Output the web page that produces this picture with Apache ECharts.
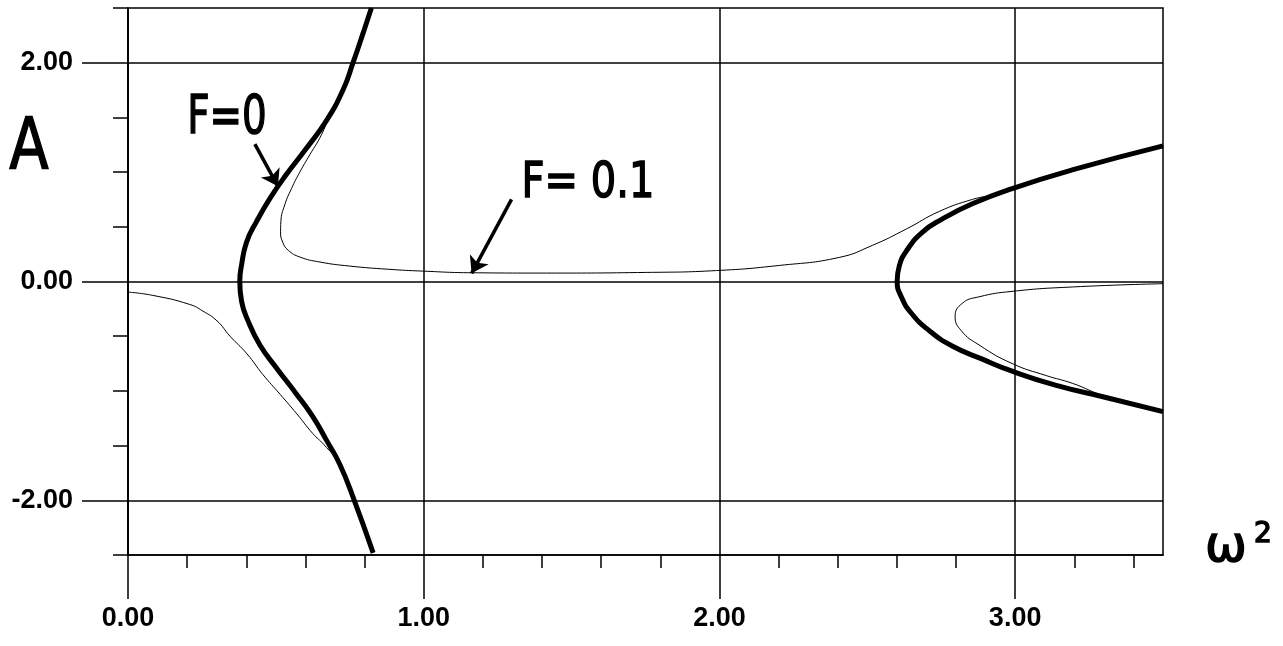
<!DOCTYPE html>
<html>
<head>
    <meta charset="utf-8">
    <title>A - omega^2</title>
    <script src="https://cdnjs.cloudflare.com/ajax/libs/echarts/6.0.0/echarts.min.js"></script>
</head>
<body style="margin:0;background:#fff;">
    <div id="main" style="width:1283px;height:646px;"></div>
    <script type="text/javascript">

    // ticks
    var xMajor = [0, 1, 2, 3];
    var xMinor = [0.2, 0.4, 0.6, 0.8, 1.2, 1.4, 1.6, 1.8, 2.2, 2.4, 2.6, 2.8, 3.2, 3.4];
    var yMajor = [-2, 0, 2];
    var yMinor = [-2.5, -1.5, -1, -0.5, 0.5, 1, 1.5, 2.5];

    // F=0, thick curves  [omega^2, A]
    var f0Left = [
        [0.829, -2.48], [0.761, -1.97], [0.716, -1.67], [0.671, -1.45], [0.626, -1.24],
        [0.57, -1.03], [0.502, -0.79], [0.446, -0.58], [0.406, -0.36], [0.384, -0.18],
        [0.378, 0], [0.384, 0.15], [0.401, 0.36], [0.435, 0.55], [0.48, 0.76],
        [0.536, 0.98], [0.604, 1.22], [0.671, 1.47], [0.727, 1.75], [0.761, 2.0],
        [0.795, 2.27], [0.823, 2.5]
    ];
    var f0Right = [
        [3.5, 1.24], [3.193, 1.02], [2.99, 0.85], [2.855, 0.71], [2.753, 0.57],
        [2.686, 0.45], [2.635, 0.29], [2.608, 0.14], [2.601, 0], [2.615, -0.14],
        [2.649, -0.29], [2.71, -0.45], [2.787, -0.59], [2.889, -0.71], [2.99, -0.82],
        [3.139, -0.95], [3.307, -1.06], [3.5, -1.19]
    ];

    // F=0.1, thin curves
    var f1Low = [
        [0, -0.097], [0.084, -0.127], [0.209, -0.21], [0.253, -0.27], [0.301, -0.36],
        [0.345, -0.50], [0.402, -0.66], [0.456, -0.85], [0.514, -1.03], [0.571, -1.21],
        [0.625, -1.39], [0.662, -1.49], [0.716, -1.67], [0.761, -1.97], [0.829, -2.48]
    ];
    var f1Upper = [
        [0.823, 2.5], [0.795, 2.27], [0.761, 2.0], [0.727, 1.75], [0.688, 1.56],
        [0.654, 1.34], [0.615, 1.16], [0.581, 1.0], [0.553, 0.85], [0.53, 0.70],
        [0.517, 0.547], [0.516, 0.454], [0.523, 0.36], [0.542, 0.285], [0.581, 0.224],
        [0.649, 0.178], [0.75, 0.141], [0.88, 0.112], [0.997, 0.095], [1.162, 0.08],
        [1.415, 0.077], [1.753, 0.083], [1.99, 0.10], [2.203, 0.147], [2.405, 0.22],
        [2.517, 0.33], [2.632, 0.48], [2.743, 0.64], [2.855, 0.75], [2.936, 0.80],
        [2.99, 0.86], [3.193, 1.03], [3.5, 1.245]
    ];
    var f1Right = [
        [3.5, -0.02], [3.193, -0.05], [2.99, -0.09], [2.878, -0.14], [2.821, -0.20],
        [2.797, -0.32], [2.818, -0.45], [2.878, -0.58], [2.99, -0.75], [3.105, -0.86],
        [3.193, -0.93], [3.307, -1.05], [3.5, -1.18]
    ];

    // arrows: [tail, head]
    var arrowF0 = [[0.429, 1.256], [0.507, 0.87]];
    var arrowF1 = [[1.297, 0.75], [1.162, 0.075]];

    var myChart = echarts.init(document.getElementById('main'));

    var lbl = { fontFamily: '"Liberation Sans", Arial, sans-serif', fontSize: 27, fontWeight: 'bold', color: '#000' };
    var gline = { color: '#000', width: 1.5 };
    var hand = '"DejaVu Sans", sans-serif';

    function curve(data, w) {
        return {
            type: 'line',
            data: data,
            showSymbol: false,
            smooth: 0.5,
            lineStyle: { color: '#000', width: w },
            z: w > 2 ? 4 : 3
        };
    }

    function handText(txt, x, y, size, sx) {
        return {
            type: 'text', x: x, y: y, scaleX: sx,
            style: {
                text: txt, font: 'normal ' + size + 'px ' + hand,
                fill: '#000', stroke: '#000', lineWidth: 1.5,
                align: 'center', verticalAlign: 'middle'
            }
        };
    }

    var thick0 = curve(f0Left, 5);
    thick0.markLine = {
        silent: true,
        symbol: ['none', 'arrow'],
        symbolSize: 16,
        label: { show: false },
        lineStyle: { color: '#000', width: 3.5, type: 'solid' },
        data: [
            [{ coord: arrowF0[0] }, { coord: arrowF0[1] }],
            [{ coord: arrowF1[0] }, { coord: arrowF1[1] }]
        ]
    };

    var option = {
        backgroundColor: '#fff',
        animation: false,
        grid: {
            left: 128, right: 120, top: 8, bottom: 91,
            show: true, borderColor: '#000', borderWidth: 1.5
        },
        xAxis: [{
            type: 'value', min: 0, max: 3.5, interval: 1,
            axisLine: { show: true, onZero: false, lineStyle: gline },
            axisTick: { show: true, customValues: xMajor, length: 44, lineStyle: gline },
            axisLabel: Object.assign({ customValues: xMajor, margin: 50, formatter: function (v) { return v.toFixed(2); } }, lbl),
            splitLine: { show: true, lineStyle: gline }
        }, {
            type: 'value', min: 0, max: 3.5, position: 'bottom', offset: 0,
            axisLine: { show: false, onZero: false },
            axisTick: { show: true, customValues: xMinor, length: 13, lineStyle: gline },
            axisLabel: { show: false },
            splitLine: { show: false }
        }],
        yAxis: [{
            type: 'value', min: -2.5, max: 2.5,
            axisLine: { show: true, onZero: false, lineStyle: gline },
            axisTick: { show: true, customValues: yMajor, length: 46, lineStyle: gline },
            axisLabel: Object.assign({ customValues: yMajor, margin: 55, formatter: function (v) { return v.toFixed(2); } }, lbl),
            splitLine: { show: true, lineStyle: gline }
        }, {
            type: 'value', min: -2.5, max: 2.5, position: 'left', offset: 0,
            axisLine: { show: false, onZero: false },
            axisTick: { show: true, customValues: yMinor, length: 15, lineStyle: gline },
            axisLabel: { show: false },
            splitLine: { show: false }
        }],
        graphic: [
            handText('A', 29, 149, 72, 0.8),
            handText('F=0', 227, 119, 54, 0.72),
            handText('F= 0.1', 588, 184, 50, 0.8),
            handText('ω', 1226, 548, 50, 1),
            handText('2', 1263, 535, 28, 1)
        ],
        series: [
            thick0,
            curve(f0Right, 5),
            curve(f1Low, 1),
            curve(f1Upper, 1),
            curve(f1Right, 1)
        ]
    };

    myChart.setOption(option);
    </script>
</body>
</html>
